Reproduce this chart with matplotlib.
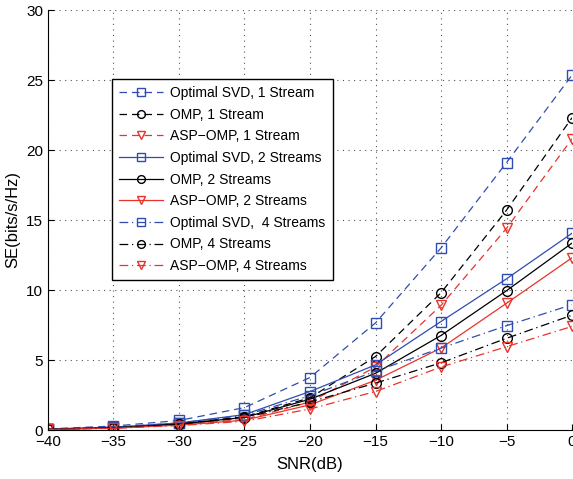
import numpy as np
import matplotlib
matplotlib.use("Agg")
import matplotlib.pyplot as plt

plt.rcParams['font.family'] = ['Liberation Sans', 'DejaVu Sans']

# SNR-Werte (dB)
snr = [-40, -35, -30, -25, -20, -15, -10, -5, 0]

# spektrale Effizienz
svd_1 = [0.08, 0.28, 0.68, 1.6, 3.75, 7.65, 13.0, 19.1, 25.35]
omp_1 = [0.05, 0.18, 0.45, 0.95, 2.3, 5.25, 9.8, 15.7, 22.3]
asp_1 = [0.04, 0.15, 0.38, 0.75, 2.0, 4.5, 8.9, 14.4, 20.8]
svd_2 = [0.07, 0.2, 0.5, 1.1, 2.75, 4.65, 7.75, 10.8, 14.05]
omp_2 = [0.05, 0.16, 0.42, 0.9, 2.2, 4.05, 6.75, 9.95, 13.35]
asp_2 = [0.04, 0.13, 0.35, 0.7, 1.8, 3.55, 5.85, 9.05, 12.3]
svd_4 = [0.06, 0.2, 0.5, 1.05, 2.45, 4.2, 5.85, 7.45, 8.95]
omp_4 = [0.05, 0.16, 0.42, 0.88, 2.0, 3.35, 4.8, 6.55, 8.2]
asp_4 = [0.04, 0.12, 0.32, 0.62, 1.5, 2.75, 4.5, 5.95, 7.4]

labels = ["Optimal SVD, 1 Stream", "OMP, 1 Stream", "ASP\u2212OMP, 1 Stream",
          "Optimal SVD, 2 Streams", "OMP, 2 Streams", "ASP\u2212OMP, 2 Streams",
          "Optimal SVD,  4 Streams", "OMP, 4 Streams", "ASP\u2212OMP, 4 Streams"]

blau = '#2f4db0'
rot = '#e8332b'
schwarz = '#000000'

reihen = [svd_1, omp_1, asp_1, svd_2, omp_2, asp_2, svd_4, omp_4, asp_4]
farben = [blau, schwarz, rot] * 3
marker = ['s', 'o', 'v'] * 3
stile = [(0, (6, 4))] * 3 + ['-'] * 3 + [(0, (7, 3, 1, 3))] * 3

fig = plt.figure(figsize=(5.73, 4.79), dpi=100)
ax = fig.add_axes([48 / 573, 49 / 479, (572 - 48) / 573, 420 / 479])

for werte, f, m, ls, lab in zip(reihen, farben, marker, stile, labels):
    ax.plot(snr, werte, color=f, marker=m, linestyle=ls, linewidth=0.9,
            markersize=7, markerfacecolor='none', markeredgewidth=1.0, label=lab)

ax.set_xlim(-40, 0)
ax.set_ylim(0, 30)
ax.set_xticks(np.arange(-40, 1, 5))
ax.set_yticks(np.arange(0, 31, 5))
ax.tick_params(direction='in', labelsize=11, length=4, width=0.8)
ax.grid(True, linestyle=(0, (1, 4)), color='#555555', linewidth=0.8)
ax.spines['top'].set_visible(False)
ax.spines['right'].set_visible(False)
ax.set_xlabel("SNR(dB)", fontsize=12, labelpad=6)
ax.set_ylabel("SE(bits/s/Hz)", fontsize=12, labelpad=4)

leg = ax.legend(loc='upper left', bbox_to_anchor=((112 - 48) / 524, (430 - 79) / 420),
                borderaxespad=0, fontsize=10, handlelength=3.2, labelspacing=0.55,
                fancybox=False, framealpha=1, edgecolor='black', borderpad=0.5,
                handletextpad=0.5, markerscale=0.8)
leg.get_frame().set_linewidth(1.0)

fig.savefig("out.png", dpi=100)
